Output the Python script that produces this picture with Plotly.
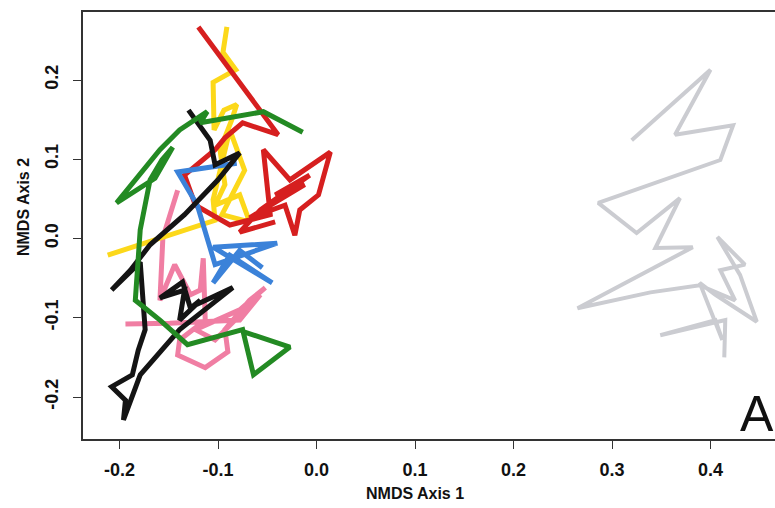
import plotly.graph_objects as go

# NMDS trajectories (data units)
gray_x = [0.320, 0.400, 0.364, 0.423, 0.410, 0.286, 0.325, 0.369, 0.344, 0.382, 0.265, 0.339, 0.389, 0.425, 0.410, 0.435, 0.407, 0.430, 0.447, 0.405, 0.389, 0.412, 0.405, 0.349, 0.415, 0.414]
gray_y = [0.124, 0.213, 0.131, 0.143, 0.099, 0.045, 0.007, 0.051, -0.012, -0.011, -0.088, -0.068, -0.059, -0.078, -0.040, -0.033, 0.002, -0.046, -0.105, -0.071, -0.056, -0.128, -0.103, -0.122, -0.103, -0.150]

pink_x = [-0.141, -0.156, -0.159, -0.144, -0.128, -0.118, -0.115, -0.113, -0.139, -0.141, -0.113, -0.090, -0.093, -0.068, -0.052, -0.078, -0.123, -0.103, -0.057, -0.078, -0.149, -0.194]
pink_y = [0.061, 0.001, -0.078, -0.033, -0.071, -0.065, -0.025, -0.103, -0.128, -0.147, -0.163, -0.143, -0.115, -0.078, -0.062, -0.090, -0.115, -0.128, -0.071, -0.103, -0.107, -0.108]

yellow_x = [-0.091, -0.095, -0.082, -0.105, -0.104, -0.094, -0.081, -0.086, -0.098, -0.093, -0.103, -0.078, -0.068, -0.096, -0.073, -0.088, -0.105, -0.103, -0.212]
yellow_y = [0.267, 0.235, 0.213, 0.197, 0.137, 0.162, 0.169, 0.150, 0.112, 0.068, 0.042, 0.055, 0.021, 0.030, 0.086, 0.137, 0.049, 0.023, -0.021]

red_x = [-0.120, -0.039, -0.075, -0.093, -0.103, -0.134, -0.123, -0.088, -0.047, -0.054, -0.027, 0.014, 0.002, -0.017, -0.022, -0.032, -0.068, -0.012, -0.042, -0.007, -0.057, -0.078, -0.042]
red_y = [0.267, 0.131, 0.146, 0.127, 0.112, 0.080, 0.042, 0.017, 0.030, 0.112, 0.074, 0.109, 0.055, 0.036, 0.004, 0.042, 0.026, 0.068, 0.055, 0.080, 0.036, 0.008, 0.021]

blue_x = [-0.081, -0.141, -0.121, -0.111, -0.103, -0.040, -0.105, -0.045, -0.088, -0.105, -0.078, -0.055]
blue_y = [0.095, 0.084, 0.042, -0.002, -0.033, -0.006, -0.011, -0.056, -0.021, -0.056, -0.015, -0.037]

black_x = [-0.130, -0.108, -0.103, -0.078, -0.100, -0.134, -0.169, -0.189, -0.208, -0.179, -0.174, -0.181, -0.187, -0.208, -0.194, -0.196, -0.179, -0.139, -0.085, -0.123, -0.139, -0.134, -0.159, -0.136, -0.128, -0.118]
black_y = [0.162, 0.124, 0.093, 0.108, 0.074, 0.030, -0.008, -0.040, -0.065, -0.030, -0.115, -0.141, -0.172, -0.187, -0.204, -0.229, -0.172, -0.115, -0.062, -0.084, -0.103, -0.065, -0.075, -0.055, -0.088, -0.078]

green_x = [-0.014, -0.054, -0.118, -0.111, -0.139, -0.159, -0.203, -0.164, -0.146, -0.157, -0.169, -0.179, -0.184, -0.159, -0.131, -0.075, -0.064, -0.027, -0.073]
green_y = [0.134, 0.160, 0.146, 0.160, 0.137, 0.112, 0.045, 0.076, 0.115, 0.099, 0.074, 0.011, -0.078, -0.103, -0.134, -0.115, -0.172, -0.137, -0.118]

x_ticks = [-0.2, -0.1, 0.0, 0.1, 0.2, 0.3, 0.4]
x_tick_labels = ["<b>-0.2</b>", "<b>-0.1</b>", "<b>0.0</b>", "<b>0.1</b>", "<b>0.2</b>", "<b>0.3</b>", "<b>0.4</b>"]
y_ticks = [-0.2, -0.1, 0.0, 0.1, 0.2]
y_tick_labels = ["<b>-0.2</b>", "<b>-0.1</b>", "<b>0.0</b>", "<b>0.1</b>", "<b>0.2</b>"]

series = [
    (gray_x, gray_y, "#cbccd1", 4),
    (pink_x, pink_y, "#f07ea3", 5),
    (yellow_x, yellow_y, "#fcd81a", 5),
    (red_x, red_y, "#d61f1f", 5),
    (blue_x, blue_y, "#3b82d9", 5),
    (black_x, black_y, "#141414", 5),
    (green_x, green_y, "#238a23", 5),
]

fig = go.Figure()
for xs, ys, col, w in series:
    fig.add_trace(go.Scatter(x=xs, y=ys, mode="lines",
                             line=dict(color=col, width=w),
                             hoverinfo="skip", showlegend=False))

tick_font = dict(family="Liberation Sans, Arial, sans-serif", size=18, color="#111111")
title_font = dict(family="Liberation Sans, Arial, sans-serif", size=16, color="#111111")

fig.update_layout(
    width=775, height=508,
    margin=dict(l=83, r=0, t=12, b=69),
    paper_bgcolor="white", plot_bgcolor="white",
    showlegend=False,
    xaxis=dict(range=[-0.2371, 0.4655], tickvals=x_ticks, ticktext=x_tick_labels,
               showgrid=False, zeroline=False, showline=True, linecolor="#333333",
               linewidth=1.5, mirror=True, ticks="outside", ticklen=8,
               tickcolor="#333333", tickfont=tick_font, ticklabelstandoff=6),
    yaxis=dict(range=[-0.253, 0.2858], tickvals=y_ticks, ticktext=y_tick_labels,
               showgrid=False, zeroline=False, showline=True, linecolor="#333333",
               linewidth=1.5, mirror=False, ticks="outside", ticklen=8,
               tickcolor="#333333", tickfont=tick_font, tickangle=-90,
               ticklabelstandoff=8),
    annotations=[
        dict(text="<b>NMDS Axis 1</b>", xref="paper", yref="paper", x=0.4798, y=-0.1265,
             showarrow=False, xanchor="center", yanchor="middle", font=title_font),
        dict(text="<b>NMDS Axis 2</b>", xref="paper", yref="paper", x=-0.0867, y=0.5433,
             showarrow=False, xanchor="center", yanchor="middle", textangle=-90,
             font=title_font),
        dict(text="A", xref="paper", yref="paper", x=0.974, y=0.0585,
             showarrow=False, xanchor="center", yanchor="middle",
             font=dict(family="Liberation Sans, Arial, sans-serif", size=50, color="#111111")),
    ],
)

fig.write_html("out.html")
